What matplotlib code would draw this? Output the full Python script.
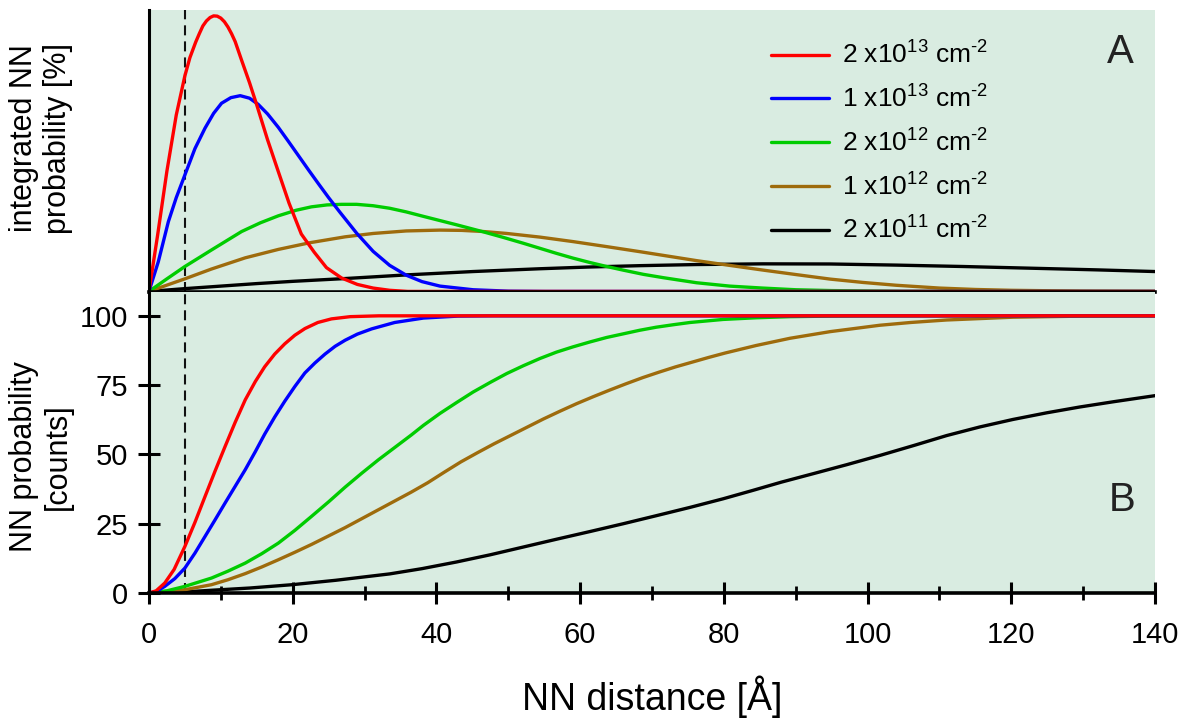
import matplotlib
matplotlib.use("Agg")
import matplotlib.pyplot as plt
from matplotlib.ticker import MultipleLocator

plt.rcParams['font.family'] = ['Liberation Sans', 'DejaVu Sans']
plt.rcParams['mathtext.fontset'] = 'custom'
plt.rcParams['mathtext.rm'] = 'Liberation Sans'
plt.rcParams['mathtext.it'] = 'Liberation Sans:italic'
plt.rcParams['mathtext.bf'] = 'Liberation Sans:bold'

# densities (legend labels) and line colours
labels = [r'2 x10$^{13}$ cm$^{\text{-}2}$', r'1 x10$^{13}$ cm$^{\text{-}2}$', r'2 x10$^{12}$ cm$^{\text{-}2}$',
          r'1 x10$^{12}$ cm$^{\text{-}2}$', r'2 x10$^{11}$ cm$^{\text{-}2}$']
colors = ['#ff0000', '#0000ff', '#00cc00', '#9e6b0c', '#000000']

# panel A: integrated NN probability (arbitrary units)
red_a_x = [0, 1.2, 2.5, 3.8, 5.0, 5.7, 6.5, 7.0, 7.5, 8.0, 8.5, 9.0, 9.5, 10.0, 10.5, 11.0, 11.5, 12.0, 12.9,
           14.0, 15.0, 16.5, 18.0, 19.5, 21.2, 23.0, 24.7, 26.8, 29.0, 31.2, 33.5, 36.0, 140]
red_a_y = [0, 20, 43, 63, 77, 83.5, 89, 92, 94.8, 96.6, 97.8, 98.4, 98.3, 97.6, 96.3, 94.4, 92.0, 89.2, 82.5,
           74.5, 66.6, 54.2, 42.8, 31.5, 20.5, 14.0, 8.5, 4.8, 2.5, 1.2, 0.4, 0, 0]
blue_a_x = [0, 1.3, 2.7, 3.8, 5.0, 6.4, 7.8, 9.0, 10.1, 11.4, 12.7, 14.0, 15.2, 16.5, 18.0, 19.4, 20.8, 22.2,
            23.6, 25.0, 26.6, 28.9, 31.2, 33.5, 35.8, 38.0, 40.5, 45.1, 50, 55, 140]
blue_a_y = [0, 10.6, 24.9, 33.5, 41.6, 51.0, 58.3, 63.6, 67.2, 69.2, 69.9, 69.0, 66.8, 63.4, 58.6, 53.6, 48.5,
            43.4, 38.4, 33.5, 28.2, 20.8, 14.3, 9.3, 5.8, 3.5, 1.9, 0.6, 0.1, 0, 0]
green_a_x = [0, 2.5, 5.0, 8.7, 12.9, 15.5, 18.0, 20.5, 22.6, 24.8, 26.8, 28.9, 31.2, 33.5, 35.8, 38.2, 40.5,
             42.8, 46.5, 49.3, 52.1, 54.4, 56.7, 59.0, 61.4, 63.7, 66.0, 68.8, 71.6, 76.2, 80.8, 85.4, 90.0,
             95.0, 105.0, 140]
green_a_y = [0, 4.5, 8.9, 14.8, 21.4, 24.5, 27.0, 29.0, 30.2, 30.9, 31.1, 31.1, 30.6, 29.7, 28.4, 26.8, 25.3,
             23.8, 21.3, 19.3, 17.2, 15.4, 13.6, 11.9, 10.3, 8.9, 7.6, 6.1, 4.9, 3.1, 1.9, 1.2, 0.6,
             0.3, 0.05, 0]
brown_a_x = [0, 5.0, 8.7, 13.4, 18.0, 22.4, 27.3, 31.2, 35.8, 40.5, 43.5, 46.5, 49.8, 54.4, 59.0, 63.7, 68.3,
             71.5, 76.2, 80.8, 85.5, 90.1, 94.8, 99.4, 104.0, 110.0, 115.0, 120.0, 130.0, 140.0]
brown_a_y = [0, 4.5, 8.0, 12.0, 15.0, 17.4, 19.5, 20.7, 21.6, 21.9, 21.8, 21.4, 20.7, 19.4, 17.8, 16.0, 14.2,
             12.9, 11.0, 9.3, 7.6, 6.0, 4.4, 3.2, 2.2, 1.2, 0.7, 0.4, 0.1, 0]
black_a_x = [0, 5, 10, 15, 20, 27.3, 35.8, 45.1, 54.4, 61.0, 68.3, 76.2, 85.4, 94.8, 104, 113.3, 122.6,
             131.9, 140]
black_a_y = [0, 1.0, 1.9, 2.8, 3.6, 4.6, 5.9, 7.1, 8.1, 8.7, 9.2, 9.6, 9.85, 9.8, 9.4, 8.9, 8.3, 7.7, 7.1]

# panel B: NN probability [counts]
red_b_x = [0, 1.0, 2.2, 3.5, 5.0, 6.4, 7.8, 9.2, 10.6, 12.0, 13.4, 14.8, 16.1, 17.5, 18.9, 20.3, 21.7, 23.5,
           25.4, 28.0, 32.0, 140]
red_b_y = [0, 0.8, 3.6, 8.5, 16.8, 25.5, 34.8, 44.0, 52.9, 61.6, 69.7, 76.3, 81.6, 86.2, 89.9, 93.0, 95.4, 97.6,
           98.9, 99.7, 100, 100]
blue_b_x = [0, 1.0, 2.2, 3.6, 5.0, 6.4, 7.8, 9.2, 10.6, 12.0, 13.4, 14.8, 16.1, 17.5, 18.9, 20.3, 21.7, 23.1,
            24.5, 25.9, 27.3, 29.0, 31.0, 34.2, 38.2, 43.0, 48.0, 140]
blue_b_y = [0, 0.5, 2.4, 5.2, 9.0, 14.4, 20.4, 26.4, 32.5, 38.5, 44.5, 51.0, 57.3, 63.5, 69.2, 74.5, 79.4, 83.0,
            86.2, 89.0, 91.2, 93.4, 95.3, 97.6, 99.2, 99.9, 100, 100]
green_b_x = [0, 2.5, 5.0, 8.7, 11.0, 13.4, 15.7, 18.0, 20.3, 22.6, 25.0, 27.3, 29.6, 31.9, 34.2, 36.5, 38.2,
             40.5, 42.8, 45.1, 47.5, 49.8, 52.1, 54.4, 56.7, 59.0, 61.4, 63.7, 66.0, 68.3, 70.6, 73.0, 75.3,
             79.9, 84.5, 89.2, 95.0, 100, 140]
green_b_y = [0, 0.8, 2.4, 5.4, 7.9, 10.8, 14.2, 18.0, 22.6, 27.6, 32.9, 38.2, 43.2, 48.0, 52.5, 57.0, 60.5,
             64.8, 68.7, 72.5, 76.0, 79.2, 82.0, 84.6, 86.9, 88.8, 90.6, 92.2, 93.5, 94.8, 95.9, 96.8, 97.6,
             98.7, 99.3, 99.7, 99.9, 100, 100]
brown_b_x = [0, 5.0, 8.7, 11.0, 13.4, 15.7, 18.0, 20.3, 22.6, 25.0, 27.3, 29.6, 31.9, 34.2, 36.5, 38.8, 41.1,
             43.4, 45.7, 48.0, 50.3, 52.6, 54.9, 57.2, 59.5, 61.8, 64.1, 66.4, 68.7, 71.0, 73.3, 75.6, 77.9,
             80.2, 84.5, 89.2, 94.8, 101.7, 106.0, 111.0, 120.2, 130.0, 140]
brown_b_y = [0, 1.2, 3.0, 4.8, 7.0, 9.4, 12.0, 14.7, 17.5, 20.6, 23.6, 26.8, 30.0, 33.2, 36.4, 39.8, 43.6,
             47.3, 50.6, 53.8, 56.8, 59.8, 62.8, 65.6, 68.3, 70.8, 73.2, 75.5, 77.7, 79.7, 81.6, 83.3, 85.0,
             86.6, 89.3, 91.9, 94.3, 96.6, 97.6, 98.5, 99.5, 99.9, 100]
black_b_x = [0, 5.0, 8.7, 14.0, 19.9, 26.0, 33.5, 38.0, 42.8, 47.5, 52.1, 56.7, 61.4, 66.0, 70.6, 75.3, 79.9,
             84.0, 88.0, 92.5, 97.1, 101.8, 106.4, 111.0, 115.6, 120.2, 124.9, 129.5, 134.2, 140]
black_b_y = [0, 0.4, 1.0, 1.8, 3.0, 4.6, 6.9, 8.8, 11.2, 13.8, 16.6, 19.4, 22.2, 25.0, 27.9, 30.9, 34.0,
             37.0, 40.0, 43.1, 46.3, 49.7, 53.2, 56.8, 59.9, 62.6, 65.0, 67.1, 69.0, 71.2]

series_a = [(red_a_x, red_a_y), (blue_a_x, blue_a_y), (green_a_x, green_a_y), (brown_a_x, brown_a_y),
            (black_a_x, black_a_y)]
series_b = [(red_b_x, red_b_y), (blue_b_x, blue_b_y), (green_b_x, green_b_y), (brown_b_x, brown_b_y),
            (black_b_x, black_b_y)]

bg = '#d9ece1'
lw = 2.4

fig = plt.figure(figsize=(11.85, 7.24), dpi=100)
axA = fig.add_axes([0.1257, 0.5967, 0.8490, 0.3895])
axB = fig.add_axes([0.1257, 0.1809, 0.8490, 0.4158])

handles = [None] * 5
for i in reversed(range(5)):
    xa, ya = series_a[i]
    xb, yb = series_b[i]
    handles[i], = axA.plot(xa, ya, color=colors[i], lw=lw, solid_joinstyle='round', solid_capstyle='round')
    axB.plot(xb, yb, color=colors[i], lw=lw, solid_joinstyle='round', solid_capstyle='round')

for ax in (axA, axB):
    ax.set_facecolor(bg)
    ax.set_xlim(0, 140)
    ax.axvline(5, color='#111111', lw=1.5, ls=(0, (4.8, 2.9)), zorder=1)
    ax.spines['top'].set_visible(False)
    ax.spines['right'].set_visible(False)
    ax.spines['left'].set_linewidth(2.2)
    ax.spines['bottom'].set_linewidth(2.6)

axA.set_ylim(-0.2, 100.5)
axA.set_xticks([])
axA.set_yticks([])

axB.set_ylim(0, 108.6)
axB.set_yticks([0, 25, 50, 75, 100])
axB.xaxis.set_major_locator(MultipleLocator(20))
axB.xaxis.set_minor_locator(MultipleLocator(10))
axB.tick_params(axis='both', which='major', direction='inout', length=16, width=2.2, labelsize=21)
axB.tick_params(axis='x', which='minor', direction='inout', length=10, width=2.0)
axB.tick_params(axis='x', pad=12)
axB.tick_params(axis='y', pad=7)

leg = axA.legend(handles, labels, loc='upper left', bbox_to_anchor=(0.618, 0.888), frameon=False,
                 fontsize=19, handlelength=2.2, handletextpad=0.5, labelspacing=0.63,
                 borderaxespad=0, borderpad=0)

axA.text(0.966, 0.851, 'A', transform=axA.transAxes, ha='center', va='center', fontsize=29, color='#222222')
axB.text(0.967, 0.309, 'B', transform=axB.transAxes, ha='center', va='center', fontsize=29, color='#222222')

fig.text(41 / 1185, 1 - 138 / 724, 'integrated NN\nprobability [%]', rotation=90, ha='center', va='center',
         fontsize=22, linespacing=1.15, multialignment='center')
fig.text(41 / 1185, 1 - 457 / 724, 'NN probability\n[counts]', rotation=90, ha='center', va='center',
         fontsize=22, linespacing=1.15, multialignment='center')
fig.text(652 / 1185, 1 - 697 / 724, 'NN distance [Å]', ha='center', va='center', fontsize=27)

fig.savefig('out.png', dpi=100, facecolor='white')
